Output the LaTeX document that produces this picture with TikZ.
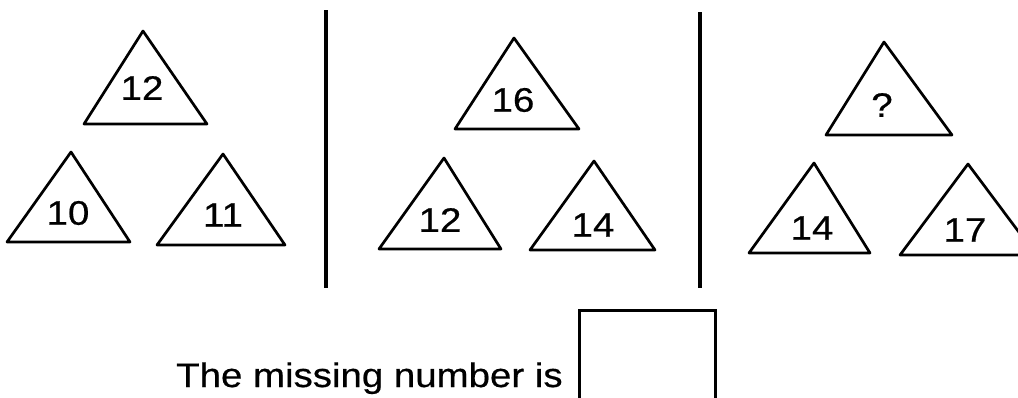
\documentclass[tikz,border=0pt]{standalone}
\usepackage{fontspec}
\setmainfont{Liberation Sans}
\usepackage{graphicx}
\newcommand{\stretchtxt}[1]{\scalebox{1.13}[1]{#1}}
\newcommand{\puzzletri}[6]{%
  \coordinate (#1a) at #2;
  \coordinate (#1l) at #3;
  \coordinate (#1r) at #4;
  \draw[tri] (#1a) -- (#1l) -- (#1r) -- cycle;
  \node[num] (#1t) at #5 {\stretchtxt{#6}};}
\begin{document}
\begin{tikzpicture}[x=1pt,y=-1pt,
  tri/.style={line width=2.7pt,line join=round},
  num/.style={inner sep=0pt,font=\fontsize{34}{40}\selectfont\addfontfeature{FakeBold=0.5}},
  rulebar/.style={line width=3.2pt},
  answerbox/.style={line width=3.0pt}]
\useasboundingbox (0,0) rectangle (1018,397);
\clip (0,0) rectangle (1018,397);
\fill[white] (0,0) rectangle (1018,397);
% group 1
\puzzletri{ga}{(143,31)}{(84,124)}{(207,124)}{(142,88)}{12}
\puzzletri{gb}{(71,152)}{(7,242)}{(130,242)}{(68,213)}{10}
\puzzletri{gc}{(223,154)}{(157,245)}{(285,245)}{(223,215)}{11}
% group 2
\puzzletri{ha}{(514,38)}{(455,129)}{(579,129)}{(513,100)}{16}
\puzzletri{hb}{(444,158)}{(379,249)}{(501,249)}{(440,220)}{12}
\puzzletri{hc}{(594,161)}{(530,250)}{(655,250)}{(593,225)}{14}
% group 3
\puzzletri{ka}{(884,42)}{(826,135)}{(952,135)}{(882,105)}{?}
\puzzletri{kb}{(814,163)}{(749,253)}{(870,253)}{(812,228)}{14}
\puzzletri{kc}{(968,164)}{(900,255)}{(1036,255)}{(965,230)}{17}
% dividers
\coordinate (d1t) at (326,10);
\coordinate (d1b) at (326,288);
\coordinate (d2t) at (700,12);
\coordinate (d2b) at (700,288);
\draw[rulebar] (d1t) -- (d1b);
\draw[rulebar] (d2t) -- (d2b);
% answer line
\node[num, anchor=base west] (question) at (176,387) {\stretchtxt{The missing number is}};
\coordinate (bxl) at (579,402);
\coordinate (bxtl) at (579,310);
\coordinate (bxtr) at (715,310);
\coordinate (bxr) at (715,402);
\draw[answerbox] (bxl) -- (bxtl) -- (bxtr) -- (bxr);
\end{tikzpicture}
\end{document}
